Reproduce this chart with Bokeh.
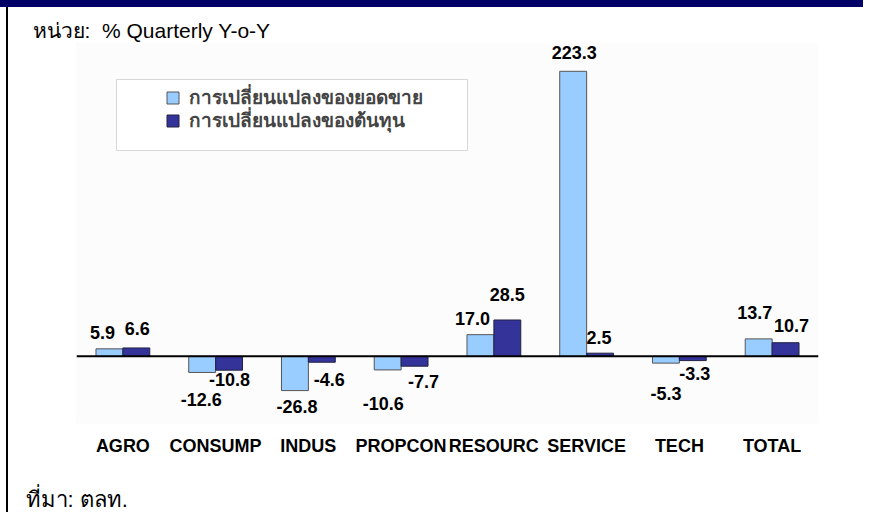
from bokeh.plotting import figure
from bokeh.layouts import column, row
from bokeh.models import (ColumnDataSource, FactorRange, Range1d, Span, Title, Div,
                          BoxAnnotation, Legend, LegendItem)
from bokeh.transform import dodge
from bokeh.core.properties import value
from bokeh.embed import file_html
from bokeh.resources import INLINE

# ---- data ----
categories = ["AGRO", "CONSUMP", "INDUS", "PROPCON", "RESOURC", "SERVICE", "TECH", "TOTAL"]
sales_change = [5.9, -12.6, -26.8, -10.6, 17.0, 223.3, -5.3, 13.7]
cost_change = [6.6, -10.8, -4.6, -7.7, 28.5, 2.5, -3.3, 10.7]
series_names = ["การเปลี่ยนแปลงของยอดขาย", "การเปลี่ยนแปลงของต้นทุน"]
unit_text = "หน่วย:\u00a0 % Quarterly Y-o-Y"
source_text = "ที่มา: ตลท."

# ---- label placement (pixels; style only) ----
sales_dx = [-7, -1, 2, -4.5, -8, 1, 0, -4]
sales_up = [16, -27, -16, -34, 16.6, 18.5, -30, 26]
cost_dx = [1, 0.5, 7.5, 9, 0, -1, 2, 6]
cost_up = [19, -9.5, -17, -15, 25, 16, -13, 17]

TOTAL_W, TOTAL_H = 863, 512
STRIP_H, BORDER_W = 7, 8
W, H = TOTAL_W - BORDER_W, TOTAL_H - STRIP_H
FONT = "Liberation Sans"
LIGHT = "#99CCFF"
DARK = "#333399"

# decorative page frame: navy strip on top, thin black rule on the left
top = Div(text="", width=TOTAL_W, height=STRIP_H, margin=0,
          styles={"background-color": "#000066"})
left = Div(text="", width=2, height=H, margin=(0, 0, 0, 6),
           styles={"background-color": "black"})

src = ColumnDataSource(dict(
    cat=categories, sales=sales_change, cost=cost_change,
    sales_lbl=[f"{v:.1f}" for v in sales_change],
    cost_lbl=[f"{v:.1f}" for v in cost_change],
    sdx=sales_dx, sdy=[-u for u in sales_up],
    cdx=cost_dx, cdy=[-u for u in cost_up],
))

p = figure(width=W, height=H, output_backend="svg", toolbar_location=None,
           x_range=FactorRange(*categories, range_padding=0),
           y_range=Range1d(-52.58, 245.86),
           y_axis_location=None,
           min_border_left=68, min_border_right=45,
           min_border_top=35, min_border_bottom=88)
p.outline_line_color = None
p.xgrid.visible = False
p.ygrid.visible = False
p.background_fill_color = "#fcfcfc"
p.border_fill_color = "white"

# legend frame
p.add_layout(BoxAnnotation(left=108, right=459, top=72, bottom=143,
                           left_units="canvas", right_units="canvas",
                           top_units="canvas", bottom_units="canvas",
                           fill_color="white", fill_alpha=1,
                           line_color="#808080", line_width=1,
                           level="underlay"))

bw = 0.29
r1 = p.vbar(x=dodge("cat", -bw / 2, range=p.x_range), top="sales", bottom=0,
            width=bw, source=src, fill_color=LIGHT, line_color="#555555", line_width=1)
r2 = p.vbar(x=dodge("cat", bw / 2, range=p.x_range), top="cost", bottom=0,
            width=bw, source=src, fill_color=DARK, line_color="#222244", line_width=1)

p.add_layout(Span(location=0, dimension="width", line_color="black", line_width=2))

common = dict(text_align="center", text_baseline="middle",
              text_font=value(FONT), text_font_style="bold",
              text_font_size="18px", text_color="black", source=src)
p.text(x=dodge("cat", -bw / 2, range=p.x_range), y="sales", text="sales_lbl",
       x_offset="sdx", y_offset="sdy", **common)
p.text(x=dodge("cat", bw / 2, range=p.x_range), y="cost", text="cost_lbl",
       x_offset="cdx", y_offset="cdy", **common)

# x axis (category names)
ax = p.xaxis[0]
ax.axis_line_color = None
ax.major_tick_line_color = None
ax.minor_tick_line_color = None
ax.major_tick_out = 0
ax.major_label_standoff = 12
ax.major_label_text_font = FONT
ax.major_label_text_font_style = "bold"
ax.major_label_text_font_size = "18px"
ax.major_label_text_color = "black"
ax.axis_label = "\u00a0"
ax.axis_label_standoff = 23
ax.axis_label_text_font_size = "1px"

leg_style = dict(orientation="vertical", padding=0, margin=0, spacing=0,
                 glyph_width=15, glyph_height=15, label_height=20, label_standoff=9,
                 label_text_font=FONT, label_text_font_style="bold",
                 label_text_font_size="19px",
                 border_line_alpha=0, background_fill_alpha=0)
p.add_layout(Legend(items=[LegendItem(label=series_names[0], renderers=[r1])],
                    location=(89, 311), **leg_style))
p.add_layout(Legend(items=[LegendItem(label=series_names[1], renderers=[r2])],
                    location=(89, 288), **leg_style))

p.add_layout(Title(text=unit_text, align="left", offset=-44, standoff=0,
                   vertical_align="middle", text_font=FONT, text_font_size="21px",
                   text_font_style="normal", text_color="black"), "above")
p.add_layout(Title(text=source_text, align="left", offset=-51, standoff=0,
                   vertical_align="middle", text_font=FONT, text_font_size="22px",
                   text_font_style="normal", text_color="black"), "below")

layout = column(top, row(left, p, spacing=0), spacing=0)
open("out.html", "w").write(file_html(layout, INLINE))
